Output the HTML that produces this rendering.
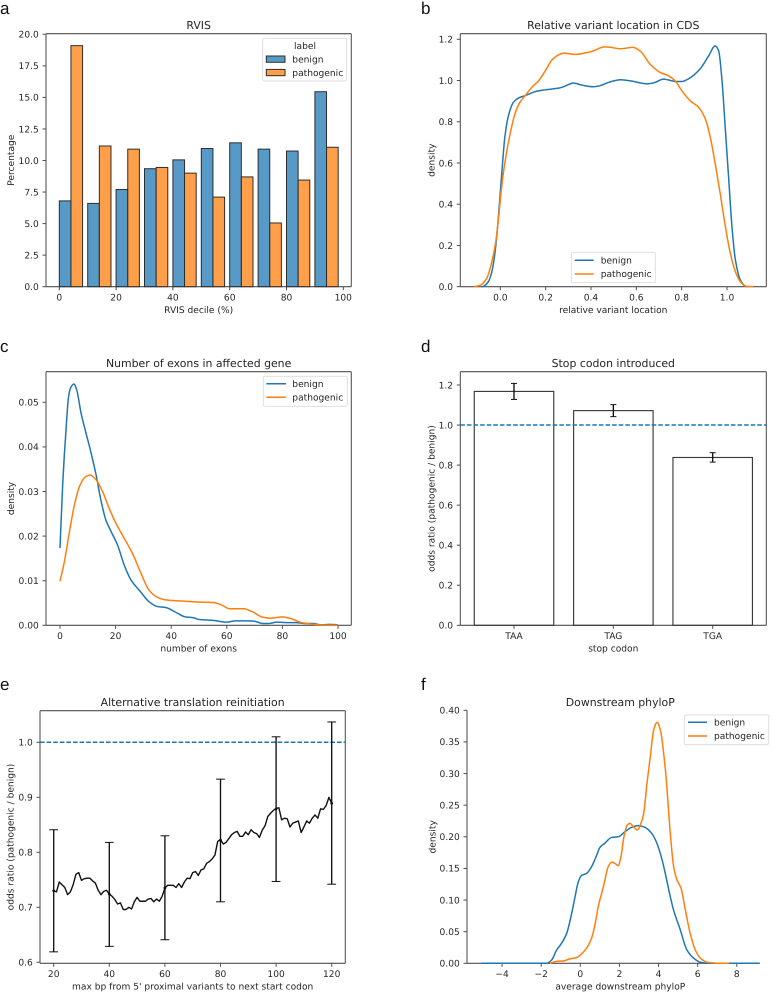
<!DOCTYPE html>
<html lang="en">
<head>
<meta charset="utf-8">
<title>Variant feature panels</title>
<style>
html,body{margin:0;padding:0;background:#fff;}
svg{display:block;filter:blur(0.35px);}
text{font-family:"DejaVu Sans","Liberation Sans",sans-serif;fill:#262626;text-rendering:geometricPrecision;}
</style>
</head>
<body>
<svg id="figure" xmlns="http://www.w3.org/2000/svg" width="774" height="992" viewBox="0 0 774 992"></svg>
<script>
/* ---------- Panel a: RVIS histogram ---------- */
const rvisBinStarts = [0,10,20,30,40,50,60,70,80,90];
const rvisBenign = [6.8,6.6,7.7,9.35,10.05,10.95,11.4,10.9,10.75,15.45];
const rvisPathogenic = [19.1,11.15,10.9,9.45,9.0,7.1,8.7,5.05,8.45,11.05];
const rvisXTicks = [0,20,40,60,80,100];
const rvisYTicks = [0,2.5,5,7.5,10,12.5,15,17.5,20];

/* ---------- Panel b: relative location density ---------- */
const locBenignX = [-0.085,-0.076,-0.053,-0.039,-0.024,-0.012,-0.0015,0.01,0.02,0.036,0.058,0.08,0.11,0.16,0.2,0.265,0.309,0.32,0.36,0.41,0.44,0.48,0.53,0.58,0.65,0.68,0.72,0.74,0.778,0.8,0.83,0.881,0.919,0.948,0.963,0.978,0.993,1.007,1.022,1.037,1.059,1.081,1.09];
const locBenignY = [0,0.001,0.024,0.065,0.16,0.29,0.435,0.6,0.725,0.83,0.895,0.915,0.927,0.948,0.955,0.965,0.984,0.988,0.978,0.97,0.975,0.992,1.004,0.997,0.984,0.99,1.007,1.003,0.995,0.995,1.008,1.056,1.12,1.168,1.145,1.0,0.758,0.532,0.29,0.13,0.032,0.003,0];
const locPathX = [-0.115,-0.087,-0.06,-0.039,-0.021,-0.009,0.006,0.02,0.043,0.065,0.087,0.11,0.14,0.17,0.2,0.228,0.258,0.28,0.33,0.4,0.46,0.48,0.53,0.585,0.62,0.66,0.704,0.74,0.77,0.8,0.837,0.874,0.904,0.926,0.948,0.97,0.993,1.015,1.037,1.059,1.081,1.115];
const locPathY = [0,0.008,0.04,0.113,0.21,0.32,0.484,0.6,0.74,0.84,0.895,0.927,0.968,1.0,1.05,1.1,1.125,1.133,1.127,1.14,1.163,1.162,1.154,1.161,1.14,1.08,1.04,1.024,1.0,0.952,0.903,0.871,0.815,0.726,0.597,0.452,0.29,0.16,0.073,0.024,0.003,0];
const locXTicks = [0,0.2,0.4,0.6,0.8,1];
const locYTicks = [0,0.2,0.4,0.6,0.8,1,1.2];

/* ---------- Panel c: number of exons density ---------- */
const exonBenignX = [0,1,2.2,3.1,4,5,6,7.6,9.4,11.2,13,14.7,16.5,18.4,20.7,23.1,25.5,29,32,35,38,41.7,45,48,50,55,60,63,68,70,73,75,78,82,85,88,91,94,97,100];
const exonBenignY = [0.0173,0.032,0.0442,0.0513,0.0535,0.0541,0.0528,0.0475,0.043,0.0386,0.0337,0.0281,0.0236,0.021,0.018,0.0135,0.0102,0.0075,0.0053,0.0042,0.004,0.0029,0.0019,0.0017,0.0013,0.0011,0.0007,0.001,0.001,0.0009,0.0004,0.0004,0.0007,0.0006,0.0006,0.0004,0.0004,0.0001,0.0002,0.0001];
const exonPathX = [0,1.6,3.4,5.2,7,8.8,10.8,13,15.3,17.7,20.1,23.1,26.1,29.1,32,35,38,41.7,45,50,55,58,61,63,66,69,73,76,80,83,87,90,93,100];
const exonPathY = [0.0099,0.0143,0.021,0.027,0.0311,0.0331,0.0337,0.0326,0.03,0.0262,0.0229,0.0195,0.0161,0.0117,0.0079,0.0063,0.0057,0.0055,0.0054,0.0052,0.0051,0.0046,0.0037,0.0037,0.0037,0.0031,0.0018,0.0016,0.0019,0.0015,0.0006,0.0003,0.0001,0];
const exonXTicks = [0,20,40,60,80,100];
const exonYTicks = [0,0.01,0.02,0.03,0.04,0.05];

/* ---------- Panel d: stop codon odds ratio ---------- */
const stopCategories = ['TAA','TAG','TGA'];
const stopOdds = [1.168,1.072,0.838];
const stopLow = [1.128,1.042,0.815];
const stopHigh = [1.208,1.102,0.862];
const stopYTicks = [0,0.2,0.4,0.6,0.8,1,1.2];
const stopReference = [1];

/* ---------- Panel e: reinitiation odds ratio ---------- */
const reinitX = [20,21,22,23,24,25,26,27,28,29,30,31,32,33,34,35,36,37,38,39,40,41,42,43,44,45,46,47,48,49,50,51,52,53,54,55,56,57,58,59,60,61,62,63,64,65,66,67,68,69,70,71,72,73,74,75,76,77,78,79,80,81,82,83,84,85,86,87,88,89,90,91,92,93,94,95,96,97,98,99,100,101,102,103,104,105,106,107,108,109,110,111,112,113,114,115,116,117,118,119,120];
const reinitY = [0.73,0.728,0.746,0.741,0.736,0.723,0.728,0.741,0.76,0.763,0.749,0.752,0.753,0.753,0.748,0.744,0.731,0.723,0.729,0.731,0.724,0.72,0.714,0.706,0.708,0.696,0.696,0.7,0.697,0.71,0.718,0.711,0.711,0.711,0.715,0.716,0.71,0.715,0.711,0.72,0.735,0.74,0.74,0.74,0.736,0.743,0.736,0.746,0.753,0.752,0.763,0.765,0.758,0.768,0.77,0.78,0.783,0.788,0.795,0.82,0.823,0.815,0.818,0.825,0.832,0.836,0.838,0.829,0.829,0.837,0.832,0.841,0.836,0.834,0.827,0.84,0.848,0.865,0.871,0.876,0.88,0.881,0.859,0.862,0.861,0.846,0.853,0.855,0.857,0.836,0.846,0.857,0.853,0.862,0.868,0.862,0.879,0.878,0.885,0.9,0.889];
const reinitErrX = [20,40,60,80,100,120];
const reinitErrMid = [0.73,0.724,0.735,0.822,0.879,0.889];
const reinitErrLow = [0.619,0.629,0.641,0.71,0.747,0.742];
const reinitErrHigh = [0.841,0.818,0.83,0.933,1.01,1.037];
const reinitXTicks = [20,40,60,80,100,120];
const reinitYTicks = [0.6,0.7,0.8,0.9,1];
const reinitReference = [1];

/* ---------- Panel f: downstream phyloP density ---------- */
const phyloBenignX = [-5.06,-1.72,-1.47,-1.21,-0.95,-0.7,-0.44,-0.27,-0.1,0.07,0.32,0.58,0.84,1.0,1.26,1.6,1.94,2.28,2.62,2.97,3.3,3.65,3.9,4.16,4.38,4.58,4.77,5.11,5.45,5.8,6.14,6.5,9.17];
const phyloBenignY = [0,0,0.005,0.021,0.032,0.047,0.079,0.105,0.129,0.139,0.142,0.153,0.171,0.183,0.19,0.199,0.2,0.208,0.215,0.2177,0.215,0.2055,0.191,0.166,0.137,0.108,0.084,0.053,0.021,0.008,0.0016,0,0];
const phyloPathX = [-1.55,-1.21,-0.87,-0.53,-0.19,0.07,0.32,0.58,0.75,0.92,1.18,1.43,1.6,1.77,1.94,2.08,2.23,2.4,2.54,2.71,2.91,3.1,3.24,3.41,3.58,3.75,3.92,4.09,4.35,4.6,4.77,4.94,5.15,5.37,5.62,5.88,6.14,6.48,7.16,7.6];
const phyloPathY = [0,0.003,0.0037,0.007,0.009,0.015,0.024,0.04,0.061,0.09,0.121,0.153,0.16,0.158,0.1544,0.169,0.2,0.2187,0.2213,0.216,0.2108,0.2213,0.237,0.285,0.327,0.369,0.381,0.369,0.306,0.2055,0.153,0.132,0.1186,0.084,0.047,0.021,0.008,0.0016,0,0];
const phyloXTicks = [-4,-2,0,2,4,6,8];
const phyloYTicks = [0,0.05,0.1,0.15,0.2,0.25,0.3,0.35,0.4];

/* ---------- Drawing helpers ---------- */
const NS = 'http://www.w3.org/2000/svg';
const root = document.getElementById('figure');
const BLUE = '#1f77b4';
const ORANGE = '#ff7f0e';
const BLUE_FILL = 'rgba(31,119,180,0.75)';
const ORANGE_FILL = 'rgba(255,127,14,0.75)';
const SPINE = '#4f4f4f';
const TICK_FS = 9.1;
const TITLE_FS = 10.9;
const CURVE_W = 1.5;

function make(tag, name, attrs, parent, content) {
  const el = document.createElementNS(NS, tag);
  
  
  for (const k in attrs) el.setAttribute(k, attrs[k]);
  if (content !== undefined) el.textContent = content;
  (parent || root).appendChild(el);
  return el;
}
function linear(d0, p0, d1, p1) {
  const s = (p1 - p0) / (d1 - d0);
  return v => p0 + (v - d0) * s;
}
function label(parent, name, x, y, text, size, anchor, extra) {
  return make('text', name, Object.assign({x: x, y: y, 'font-size': size, 'text-anchor': anchor}, extra || {}), parent, text);
}
function fmt(v, dec) {
  return v.toFixed(dec).replace('-', '\u2212');
}
function frame(name, box, xs, ys, o) {
  const g = make('g', name, {});
  const cx = o.cx || (box.l + box.r) / 2;
  const spines = make('g', name + '-spines', {stroke: SPINE, 'stroke-width': 1.05, fill: 'none'}, g);
  make('line', name + '-left-spine', {x1: box.l, x2: box.l, y1: box.t, y2: box.b}, spines);
  make('line', name + '-bottom-spine', {x1: box.l, x2: box.r, y1: box.b, y2: box.b}, spines);
  if (!o.open) {
    make('line', name + '-top-spine', {x1: box.l, x2: box.r, y1: box.t, y2: box.t}, spines);
    make('line', name + '-right-spine', {x1: box.r, x2: box.r, y1: box.t, y2: box.b}, spines);
  }
  const xAxis = make('g', name + '-x-axis', {}, g);
  o.xTicks.forEach((v, i) => {
    const px = xs(v);
    make('line', name + '-x-tick', {x1: px, x2: px, y1: box.b, y2: box.b + 3.5, stroke: SPINE, 'stroke-width': 1}, xAxis);
    const text = o.xLabels ? o.xLabels[i] : fmt(v, o.xDec);
    label(xAxis, name + '-x-tick-label', px, box.b + 13.7, text, TICK_FS, 'middle');
  });
  const yAxis = make('g', name + '-y-axis', {}, g);
  o.yTicks.forEach(v => {
    const py = ys(v);
    make('line', name + '-y-tick', {x1: box.l, x2: box.l - 3.5, y1: py, y2: py, stroke: SPINE, 'stroke-width': 1}, yAxis);
    label(yAxis, name + '-y-tick-label', box.l - 7.2, py + 3.3, fmt(v, o.yDec), TICK_FS, 'end');
  });
  label(g, name + '-title', cx, box.t - 4.5, o.title, TITLE_FS, 'middle');
  label(g, name + '-x-axis-title', cx, box.b + 26.2, o.xTitle, TICK_FS, 'middle');
  const yc = (box.t + box.b) / 2;
  label(g, name + '-y-axis-title', o.yTitleX, yc, o.yTitle, TICK_FS, 'middle',
    {transform: 'rotate(-90 ' + o.yTitleX + ' ' + yc + ')', 'dominant-baseline': 'middle'});
  return g;
}
/* monotone cubic through the read-off data points */
function curvePath(xv, yv, xs, ys) {
  const X = xv.map(xs), Y = yv.map(ys), n = X.length;
  const d = [], m = [];
  for (let i = 0; i < n - 1; i++) d.push((Y[i + 1] - Y[i]) / (X[i + 1] - X[i]));
  m[0] = d[0];
  m[n - 1] = d[n - 2];
  for (let i = 1; i < n - 1; i++) {
    m[i] = d[i - 1] * d[i] <= 0 ? 0 : 2 * d[i - 1] * d[i] / (d[i - 1] + d[i]);
  }
  let p = 'M' + X[0].toFixed(2) + ' ' + Y[0].toFixed(2);
  for (let i = 0; i < n - 1; i++) {
    const h = (X[i + 1] - X[i]) / 3;
    p += 'C' + (X[i] + h).toFixed(2) + ' ' + (Y[i] + m[i] * h).toFixed(2) + ' ' +
      (X[i + 1] - h).toFixed(2) + ' ' + (Y[i + 1] - m[i + 1] * h).toFixed(2) + ' ' +
      X[i + 1].toFixed(2) + ' ' + Y[i + 1].toFixed(2);
  }
  return p;
}
function density(parent, name, xv, yv, xs, ys, color) {
  make('path', name, {d: curvePath(xv, yv, xs, ys), fill: 'none', stroke: color, 'stroke-width': CURVE_W, 'stroke-linejoin': 'round'}, parent);
}
function lineLegend(parent, name, x0, x1, y0, y1, lineX0, lineX1, textX, y1Row, y2Row) {
  const g = make('g', name, {}, parent);
  make('rect', name + '-box', {x: x0, y: y0, width: x1 - x0, height: y1 - y0, rx: 1.7, fill: 'rgba(255,255,255,0.8)', stroke: '#dcdcdc', 'stroke-width': 0.9}, g);
  make('line', name + '-benign-swatch', {x1: lineX0, x2: lineX1, y1: y1Row, y2: y1Row, stroke: BLUE, 'stroke-width': CURVE_W}, g);
  label(g, name + '-benign-label', textX, y1Row + 3.2, 'benign', TICK_FS, 'start');
  make('line', name + '-pathogenic-swatch', {x1: lineX0, x2: lineX1, y1: y2Row, y2: y2Row, stroke: ORANGE, 'stroke-width': CURVE_W}, g);
  label(g, name + '-pathogenic-label', textX, y2Row + 3.2, 'pathogenic', TICK_FS, 'start');
}
function refLine(parent, name, box, py) {
  make('line', name, {x1: box.l, x2: box.r, y1: py, y2: py, stroke: BLUE, 'stroke-width': 1.5, 'stroke-dasharray': '4.6 2'}, parent);
}
function panelLetter(name, x, y, text) {
  label(root, name, x, y, text, 17, 'start', {style: 'font-family:"Liberation Sans",sans-serif;fill:#111;'});
}

/* ---------- Panel a ---------- */
(function () {
  const box = {l: 46, r: 351.3, t: 33.7, b: 286.7};
  const xs = linear(0, 59.3, 100, 343.3);
  const ys = linear(0, 286.7, 20, 34.3);
  const g = frame('rvis-panel', box, xs, ys, {title: 'RVIS', xTitle: 'RVIS decile (%)', yTitle: 'Percentage', yTitleX: 11.7, xTicks: rvisXTicks, yTicks: rvisYTicks, xDec: 0, yDec: 1});
  const barWidth = 4.1;
  rvisBinStarts.forEach((start, i) => {
    const b = rvisBenign[i], p = rvisPathogenic[i];
    make('rect', 'rvis-benign-bar', {x: xs(start), y: ys(b), width: xs(start + barWidth) - xs(start), height: ys(0) - ys(b), fill: BLUE_FILL, stroke: '#2e2e2e', 'stroke-width': 1}, g);
    make('rect', 'rvis-pathogenic-bar', {x: xs(start + barWidth), y: ys(p), width: xs(start + barWidth) - xs(start), height: ys(0) - ys(p), fill: ORANGE_FILL, stroke: '#2e2e2e', 'stroke-width': 1}, g);
  });
  const lg = make('g', 'rvis-legend', {}, g);
  make('rect', 'rvis-legend-box', {x: 262.7, y: 38.3, width: 84, height: 42.7, rx: 1.7, fill: 'rgba(255,255,255,0.8)', stroke: '#dcdcdc', 'stroke-width': 0.9}, lg);
  label(lg, 'rvis-legend-title', 305, 49, 'label', TICK_FS, 'middle');
  make('rect', 'rvis-legend-benign-swatch', {x: 266.3, y: 56, width: 18.7, height: 6.3, fill: BLUE_FILL, stroke: '#2e2e2e', 'stroke-width': 1}, lg);
  label(lg, 'rvis-legend-benign-label', 292.3, 62.6, 'benign', TICK_FS, 'start');
  make('rect', 'rvis-legend-pathogenic-swatch', {x: 266.3, y: 69.4, width: 18.7, height: 6.3, fill: ORANGE_FILL, stroke: '#2e2e2e', 'stroke-width': 1}, lg);
  label(lg, 'rvis-legend-pathogenic-label', 292.3, 76, 'pathogenic', TICK_FS, 'start');
})();

/* ---------- Panel b ---------- */
(function () {
  const box = {l: 460.3, r: 766.3, t: 33.7, b: 286.7};
  const xs = linear(0, 500.3, 1, 727);
  const ys = linear(0, 286.7, 1.2, 39.3);
  const g = frame('location-panel', box, xs, ys, {title: 'Relative variant location in CDS', xTitle: 'relative variant location', yTitle: 'density', yTitleX: 432, xTicks: locXTicks, yTicks: locYTicks, xDec: 1, yDec: 1});
  density(g, 'location-benign-curve', locBenignX, locBenignY, xs, ys, BLUE);
  density(g, 'location-pathogenic-curve', locPathX, locPathY, xs, ys, ORANGE);
  lineLegend(g, 'location-legend', 571.3, 655.3, 252.3, 282.7, 574.7, 593.7, 600.7, 260.3, 274);
})();

/* ---------- Panel c ---------- */
(function () {
  const box = {l: 46, r: 351.3, t: 371.7, b: 625.3};
  const xs = linear(0, 60, 100, 338);
  const ys = linear(0, 625.3, 0.05, 402.3);
  const g = frame('exon-panel', box, xs, ys, {title: 'Number of exons in affected gene', xTitle: 'number of exons', yTitle: 'density', yTitleX: 11.7, xTicks: exonXTicks, yTicks: exonYTicks, xDec: 0, yDec: 2});
  density(g, 'exon-benign-curve', exonBenignX, exonBenignY, xs, ys, BLUE);
  density(g, 'exon-pathogenic-curve', exonPathX, exonPathY, xs, ys, ORANGE);
  lineLegend(g, 'exon-legend', 263.3, 347.3, 376.3, 406.3, 266.3, 286, 292.3, 383.7, 397.3);
})();

/* ---------- Panel d ---------- */
(function () {
  const box = {l: 460.3, r: 766.3, t: 371.7, b: 625.3};
  const xs = linear(0, 514, 2, 712.7);
  const ys = linear(0, 625.3, 1.2, 385);
  const g = frame('stop-panel', box, xs, ys, {title: 'Stop codon introduced', xTitle: 'stop codon', yTitle: 'odds ratio (pathogenic / benign)', yTitleX: 432, xTicks: stopCategories.map((c, i) => i), xLabels: stopCategories, yTicks: stopYTicks, xDec: 0, yDec: 1});
  stopCategories.forEach((c, i) => {
    make('rect', 'stop-bar-' + c.toLowerCase(), {x: xs(i - 0.4), y: ys(stopOdds[i]), width: xs(i + 0.4) - xs(i - 0.4), height: ys(0) - ys(stopOdds[i]), fill: 'none', stroke: '#3a3a3a', 'stroke-width': 1.15}, g);
    make('line', 'stop-error-bar-' + c.toLowerCase(), {x1: xs(i), x2: xs(i), y1: ys(stopLow[i]), y2: ys(stopHigh[i]), stroke: '#111', 'stroke-width': 1.35}, g);
    make('line', 'stop-error-cap-low', {x1: xs(i) - 3, x2: xs(i) + 3, y1: ys(stopLow[i]), y2: ys(stopLow[i]), stroke: '#111', 'stroke-width': 1}, g);
    make('line', 'stop-error-cap-high', {x1: xs(i) - 3, x2: xs(i) + 3, y1: ys(stopHigh[i]), y2: ys(stopHigh[i]), stroke: '#111', 'stroke-width': 1}, g);
  });
  refLine(g, 'stop-reference-line', box, ys(stopReference[0]));
})();

/* ---------- Panel e ---------- */
(function () {
  const box = {l: 40, r: 345.3, t: 710.7, b: 963.3};
  const xs = linear(20, 53.7, 120, 331.7);
  const ys = linear(0.6, 962.3, 1, 742.3);
  const g = frame('reinitiation-panel', box, xs, ys, {title: 'Alternative translation reinitiation', xTitle: "max bp from 5' proximal variants to next start codon", yTitle: 'odds ratio (pathogenic / benign)', yTitleX: 11, xTicks: reinitXTicks, yTicks: reinitYTicks, xDec: 0, yDec: 1});
  refLine(g, 'reinitiation-reference-line', box, ys(reinitReference[0]));
  const pts = reinitX.map((x, i) => xs(x).toFixed(2) + ',' + ys(reinitY[i]).toFixed(2)).join(' ');
  make('polyline', 'reinitiation-odds-line', {points: pts, fill: 'none', stroke: '#111', 'stroke-width': 1.4, 'stroke-linejoin': 'round'}, g);
  reinitErrX.forEach((x, i) => {
    make('line', 'reinitiation-error-bar', {x1: xs(x), x2: xs(x), y1: ys(reinitErrLow[i]), y2: ys(reinitErrHigh[i]), stroke: '#111', 'stroke-width': 1.35}, g);
    make('line', 'reinitiation-error-cap-low', {x1: xs(x) - 4.4, x2: xs(x) + 4.4, y1: ys(reinitErrLow[i]), y2: ys(reinitErrLow[i]), stroke: '#111', 'stroke-width': 1}, g);
    make('line', 'reinitiation-error-cap-high', {x1: xs(x) - 4.4, x2: xs(x) + 4.4, y1: ys(reinitErrHigh[i]), y2: ys(reinitErrHigh[i]), stroke: '#111', 'stroke-width': 1}, g);
    make('circle', 'reinitiation-error-center', {cx: xs(x), cy: ys(reinitErrMid[i]), r: 1.4, fill: '#111'}, g);
  });
})();

/* ---------- Panel f ---------- */
(function () {
  const box = {l: 467, r: 759.7, t: 710.3, b: 963.3};
  const xs = linear(0, 580.3, 8, 736.8);
  const ys = linear(0, 963.3, 0.4, 710.3);
  const g = frame('phylop-panel', box, xs, ys, {title: 'Downstream phyloP', xTitle: 'average downstream phyloP', yTitle: 'density', yTitleX: 433, cx: 620.3, open: true, xTicks: phyloXTicks, yTicks: phyloYTicks, xDec: 0, yDec: 2});
  density(g, 'phylop-benign-curve', phyloBenignX, phyloBenignY, xs, ys, BLUE);
  density(g, 'phylop-pathogenic-curve', phyloPathX, phyloPathY, xs, ys, ORANGE);
  lineLegend(g, 'phylop-legend', 684.3, 768.7, 715, 744.7, 688, 707, 714, 722.3, 736);
})();

panelLetter('panel-letter-a', 0, 14, 'a');
panelLetter('panel-letter-b', 421, 14, 'b');
panelLetter('panel-letter-c', 0, 352, 'c');
panelLetter('panel-letter-d', 421, 352, 'd');
panelLetter('panel-letter-e', 0, 690, 'e');
panelLetter('panel-letter-f', 421, 690, 'f');
</script>
</body>
</html>
